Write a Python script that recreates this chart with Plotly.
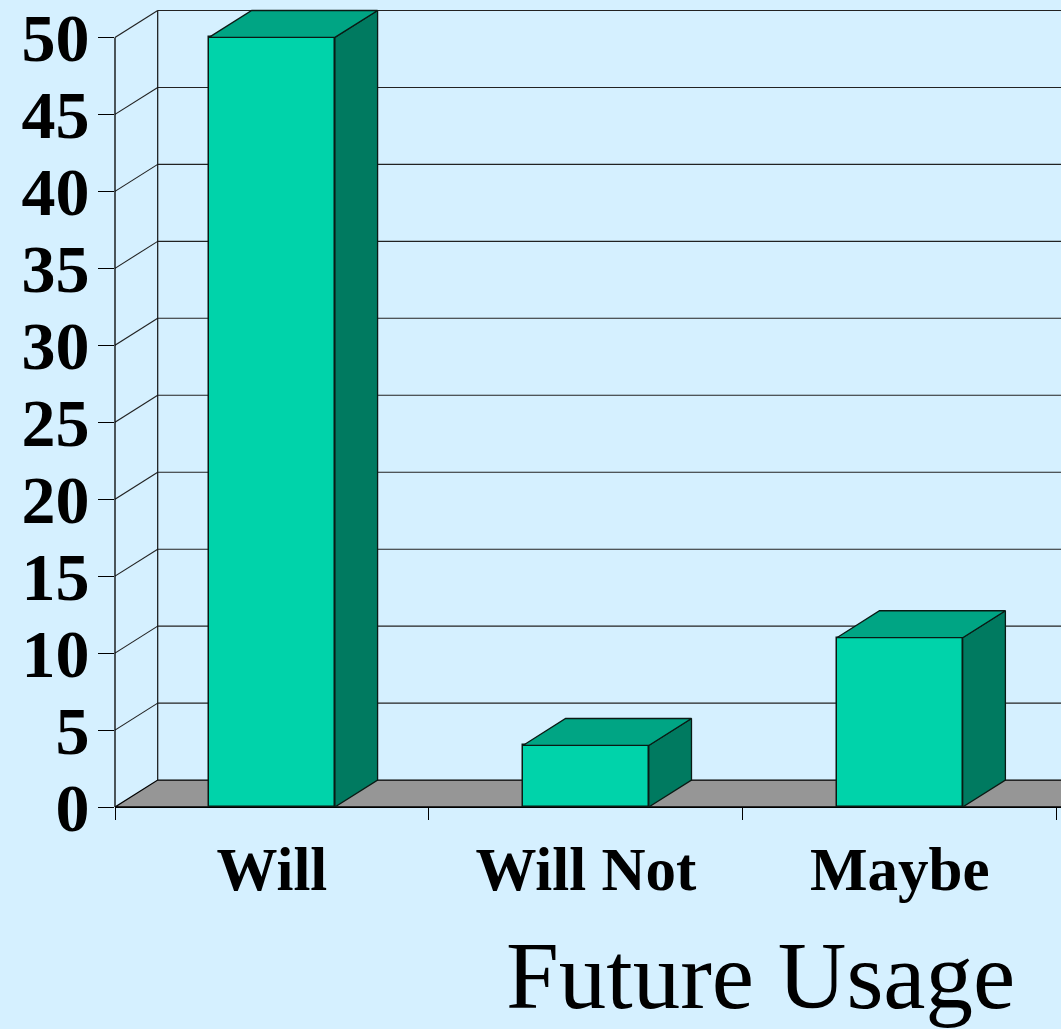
import plotly.graph_objects as go

# ---------------- data ----------------
categories = ["Will", "Will Not", "Maybe"]
values = [50, 4, 11]
y_tick_values = [0, 5, 10, 15, 20, 25, 30, 35, 40, 45, 50]
axis_title = "Future Usage"

# ---------------- styling / geometry ----------------
W, H = 1061, 1029
ML, MB = 115, 222
PX_PER_CAT = 313.9
PX_PER_UNIT = 15.43
plot_w = W - ML
plot_h = H - MB
x_max = plot_w / PX_PER_CAT
y_max = plot_h / PX_PER_UNIT
DX = 42.7 / PX_PER_CAT      # depth offset (x, data units)
DY = 27.0 / PX_PER_UNIT     # depth offset (y, data units)
BAR_W = 0.401
Y_TOP = max(y_tick_values)

BG = "#D5F0FF"
FRONT = "#00D3AA"
TOP = "#00A584"
SIDE = "#007A60"
FLOOR = "#969696"
EDGE = "#0a1a14"
SERIF = "Liberation Serif, Times New Roman, serif"

centers = [i + 0.5 for i in range(len(categories))]
boundaries = list(range(len(categories) + 1))

fig = go.Figure()

# ---- walls & floor as background shapes ----
shapes = []
shapes.append(dict(
    type="path", xref="x", yref="y", layer="below",
    path=f"M 0,0 L {x_max + DX},0 L {x_max + 2 * DX},{DY} L {DX},{DY} Z",
    fillcolor=FLOOR, line=dict(color="black", width=1.3)))
for k in y_tick_values[1:]:
    shapes.append(dict(type="line", xref="x", yref="y", layer="below",
                       x0=DX, x1=x_max + DX, y0=k + DY, y1=k + DY,
                       line=dict(color="#222222", width=1.1)))
    shapes.append(dict(type="line", xref="x", yref="y", layer="below",
                       x0=0, x1=DX, y0=k, y1=k + DY,
                       line=dict(color="#222222", width=1.1)))
shapes.append(dict(type="line", xref="x", yref="y", layer="below",
                   x0=DX, x1=DX, y0=DY, y1=Y_TOP + DY,
                   line=dict(color="#111111", width=1.2)))
# front value axis line (only up to top tick)
shapes.append(dict(type="line", xref="paper", yref="y", layer="above",
                   x0=0, x1=0, y0=0, y1=Y_TOP,
                   line=dict(color="black", width=1.3)))

# ---- bar front faces ----
fig.add_trace(go.Bar(
    x=centers, y=values, width=BAR_W,
    marker=dict(color=FRONT, line=dict(color=EDGE, width=1.5)),
    hoverinfo="x+y", showlegend=False))

# ---- bar top and side faces ----
for c, v in zip(centers, values):
    l, r = c - BAR_W / 2, c + BAR_W / 2
    fig.add_trace(go.Scatter(
        x=[r, r + DX, r + DX, r, r], y=[0, DY, v + DY, v, 0],
        mode="lines", fill="toself", fillcolor=SIDE,
        line=dict(color=EDGE, width=1.3), hoverinfo="skip", showlegend=False))
    fig.add_trace(go.Scatter(
        x=[l, r, r + DX, l + DX, l], y=[v, v, v + DY, v + DY, v],
        mode="lines", fill="toself", fillcolor=TOP,
        line=dict(color=EDGE, width=1.3), hoverinfo="skip", showlegend=False))

fig.update_layout(
    width=W, height=H,
    margin=dict(l=ML, r=0, t=0, b=MB, pad=0),
    paper_bgcolor=BG, plot_bgcolor=BG,
    bargap=0, showlegend=False,
    shapes=shapes,
    xaxis=dict(
        range=[0, x_max], tickmode="array", tickvals=centers, ticktext=categories,
        ticks="", showgrid=False, zeroline=False,
        showline=True, linecolor="black", linewidth=1.3,
        minor=dict(tickmode="array", tickvals=boundaries, ticks="outside",
                   ticklen=12, tickcolor="black", tickwidth=1.3, showgrid=False),
        tickfont=dict(family=SERIF, size=61, color="black", weight="bold"),
        ticklabelstandoff=9, ticklabeloverflow="allow", fixedrange=True),
    yaxis=dict(
        range=[0, y_max], tickmode="array", tickvals=y_tick_values,
        ticks="outside", ticklen=16, tickcolor="black", tickwidth=1.3,
        showgrid=False, zeroline=False, showline=False,
        tickfont=dict(family=SERIF, size=68, color="black", weight="bold"),
        ticklabelstandoff=-5, ticklabeloverflow="allow", fixedrange=True),
    annotations=[dict(
        text=axis_title, xref="paper", yref="paper",
        x=(1017 - ML) / plot_w, y=(plot_h - 976) / plot_h,
        xanchor="right", yanchor="middle", showarrow=False,
        font=dict(family=SERIF, size=95, color="black"))],
)

fig.write_html(
    "out.html",
    config={"displayModeBar": False},
    post_script=(
        "document.body.style.margin='0';"
        "document.body.style.padding='0';"
        "document.body.style.overflow='hidden';"
        f"document.body.style.background='{BG}';"
    ),
)
